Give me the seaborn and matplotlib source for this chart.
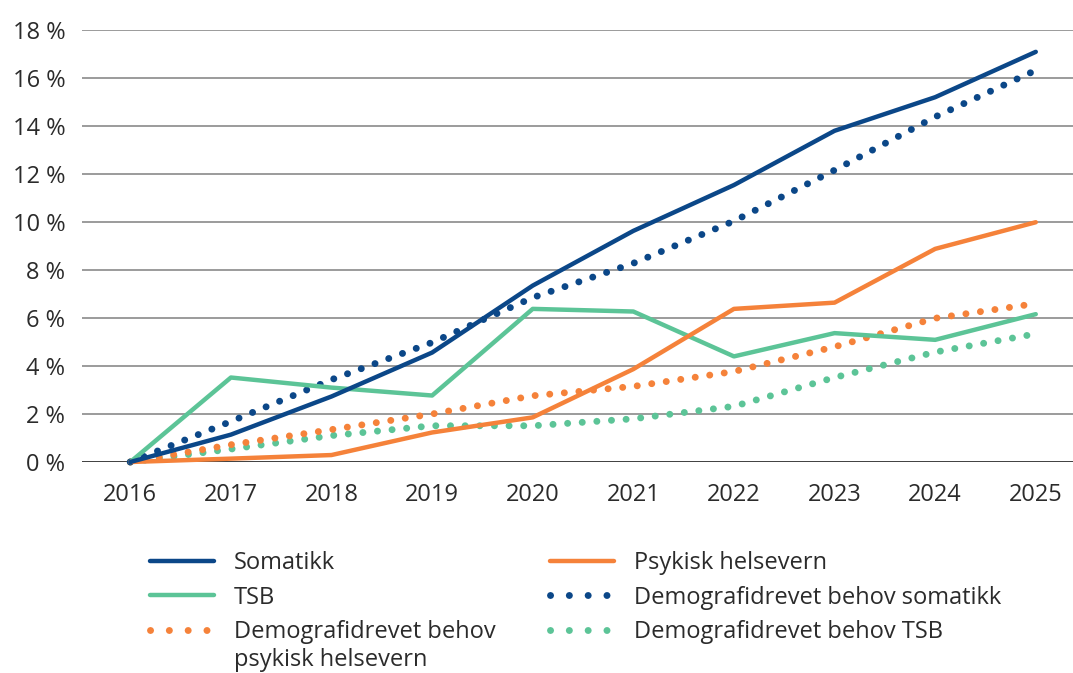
import numpy as np
import pandas as pd
import matplotlib.pyplot as plt
import seaborn as sns
from matplotlib.lines import Line2D

years = [2016, 2017, 2018, 2019, 2020, 2021, 2022, 2023, 2024, 2025]

somatikk = [0, 1.14, 2.73, 4.56, 7.35, 9.63, 11.54, 13.8, 15.2, 17.09]
psykisk = [0, 0.14, 0.29, 1.23, 1.86, 3.87, 6.38, 6.64, 8.88, 9.99]
tsb = [0, 3.52, 3.1, 2.77, 6.38, 6.27, 4.4, 5.37, 5.09, 6.16]
dem_somatikk = [0, 1.69, 3.43, 4.98, 6.85, 8.28, 10.04, 12.16, 14.38, 16.32]
dem_psykisk = [0, 0.72, 1.35, 2.0, 2.76, 3.15, 3.77, 4.8, 5.99, 6.6]
dem_tsb = [0, 0.54, 1.1, 1.51, 1.51, 1.8, 2.32, 3.52, 4.58, 5.34]

navy = '#0b4788'
orange = '#f5823a'
green = '#5cc497'
text_col = '#2b2b2b'

sns.set_style('white')
plt.rcParams['font.family'] = ['Open Sans', 'DejaVu Sans']
plt.rcParams['text.color'] = text_col

fig = plt.figure(figsize=(10.73, 6.73), dpi=100)
ax = fig.add_axes([82 / 1073, 211 / 673, 991 / 1073, 432 / 673])

dotted = (0, (0.01, 2.1))
solid_kw = dict(linewidth=3.2, solid_capstyle='round', clip_on=False)
dot_kw = dict(linewidth=5, linestyle=dotted, dash_capstyle='round', clip_on=False)

# dotted "need" lines drawn first, actual growth on top
sns.lineplot(x=years, y=dem_tsb, color=green, ax=ax, **dot_kw)
sns.lineplot(x=years, y=dem_psykisk, color=orange, ax=ax, **dot_kw)
sns.lineplot(x=years, y=dem_somatikk, color=navy, ax=ax, **dot_kw)
sns.lineplot(x=years, y=tsb, color=green, ax=ax, **solid_kw)
sns.lineplot(x=years, y=psykisk, color=orange, ax=ax, **solid_kw)
sns.lineplot(x=years, y=somatikk, color=navy, ax=ax, **solid_kw)

ax.set_xlim(2015.52, 2025.37)
ax.set_ylim(0, 18)
ax.set_yticks(range(0, 19, 2))
ax.set_yticklabels([f'{v} %' for v in range(0, 19, 2)])
ax.set_xticks(years)
ax.set_xticklabels([str(y) for y in years])
ax.tick_params(axis='both', length=0, labelsize=17, colors=text_col)
ax.tick_params(axis='y', pad=12)
ax.tick_params(axis='x', pad=15)
ax.set_xlabel('')
ax.set_ylabel('')
ax.grid(axis='y', color='#8a8a8a', linewidth=1.2)
ax.set_axisbelow(True)
for s in ax.spines.values():
    s.set_visible(False)
ax.axhline(0, color='#333333', linewidth=1.2, zorder=1)

def h(color, style):
    if style == 'solid':
        return Line2D([], [], color=color, linewidth=3.2, solid_capstyle='round')
    return Line2D([], [], color=color, linewidth=5, linestyle=(0, (0.01, 2.7)), dash_capstyle='round')

leg_kw = dict(frameon=False, fontsize=17, handlelength=2.7, handletextpad=0.85,
              labelspacing=0.45, borderpad=0, borderaxespad=0, loc='upper left')

leg1 = fig.legend([h(navy, 'solid'), h(green, 'solid'), h(orange, 'dot')],
                  ['Somatikk', 'TSB', 'Demografidrevet behov'],
                  bbox_to_anchor=(150 / 1073, 122 / 673), **leg_kw)
leg2 = fig.legend([h(orange, 'solid'), h(navy, 'dot'), h(green, 'dot')],
                  ['Psykisk helsevern', 'Demografidrevet behov somatikk', 'Demografidrevet behov TSB'],
                  bbox_to_anchor=(550 / 1073, 122 / 673), **leg_kw)

# second line of the wrapped legend label
fig.canvas.draw()
bb = leg1.get_texts()[2].get_window_extent()
fig.text(bb.x0 / 1073, (bb.y0 - 28) / 673, 'psykisk helsevern', fontsize=17,
         color=text_col, ha='left', va='bottom')

fig.savefig('out.png', dpi=100)
